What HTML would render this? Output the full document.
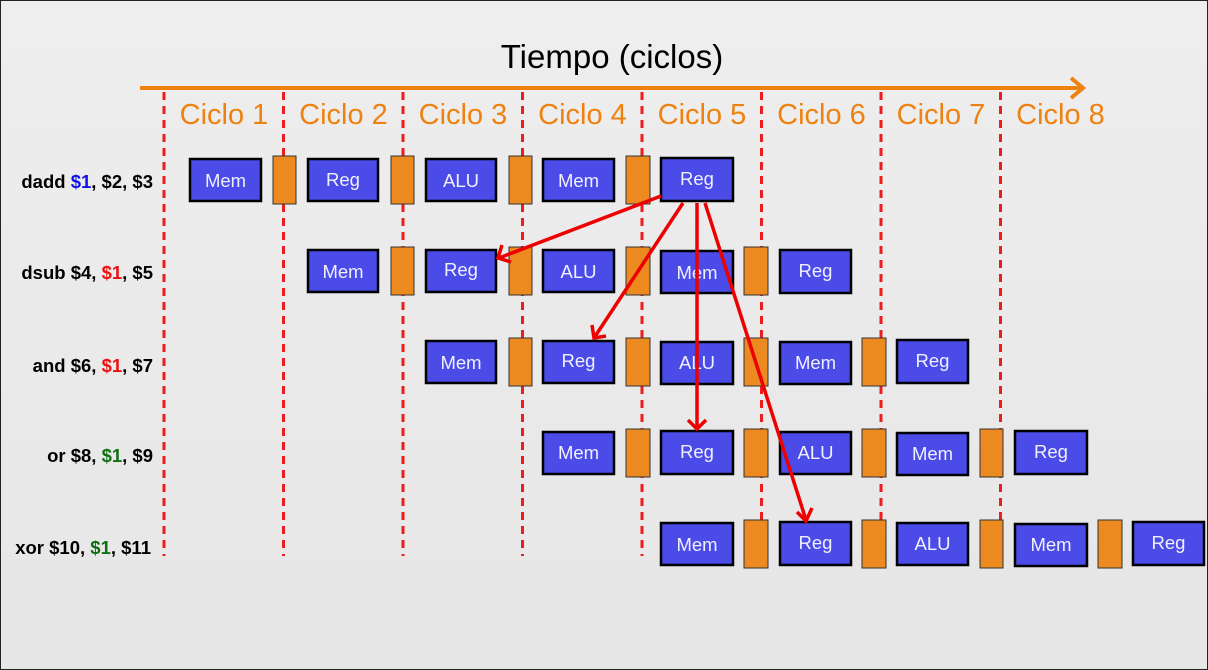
<!DOCTYPE html>
<html><head><meta charset="utf-8"><style>
html,body{margin:0;padding:0;}
body{width:1208px;height:670px;overflow:hidden;background:#ececec;}
svg{display:block;font-family:"Liberation Sans",Arial,sans-serif;}
.b{fill:#4b4be8;stroke:#000;stroke-width:2.5;}
.l{fill:#ec8a20;stroke:#333;stroke-width:1;}
.t{fill:#f0f0ff;font-size:18.5px;text-anchor:middle;}
.c{fill:#ee8211;font-size:29px;text-anchor:middle;}
.lab{font-size:18.5px;font-weight:bold;text-anchor:end;fill:#000;}
.d{stroke:#ee1c1c;stroke-width:3;stroke-dasharray:8 6;}
.a{stroke:#ee0000;stroke-width:3.5;fill:none;}
</style></head><body>
<svg width="1208" height="670" viewBox="0 0 1208 670">
<defs>
<linearGradient id="bg" x1="0" y1="0" x2="0" y2="1">
<stop offset="0" stop-color="#efeeee"/><stop offset="1" stop-color="#e6e6e6"/>
</linearGradient>
</defs>
<rect x="0.5" y="0.5" width="1207" height="669" fill="url(#bg)" stroke="#222" stroke-width="1"/>
<text x="612" y="68" font-size="33" text-anchor="middle" fill="#000">Tiempo (ciclos)</text>
<line x1="140" y1="88" x2="1082" y2="88" stroke="#ee8211" stroke-width="4"/>
<polyline points="1071,78 1083,88 1071,98" stroke="#ee8211" stroke-width="4" fill="none"/>
<g>
<line class="d" x1="164" y1="92" x2="164" y2="556"/>
<line class="d" x1="283.5" y1="92" x2="283.5" y2="556"/>
<line class="d" x1="403" y1="92" x2="403" y2="556"/>
<line class="d" x1="522.5" y1="92" x2="522.5" y2="556"/>
<line class="d" x1="642" y1="92" x2="642" y2="556"/>
<line class="d" x1="761.5" y1="92" x2="761.5" y2="556"/>
<line class="d" x1="881" y1="92" x2="881" y2="556"/>
<line class="d" x1="1000.5" y1="92" x2="1000.5" y2="556"/>
</g>
<text class="c" x="224" y="124">Ciclo 1</text>
<text class="c" x="343.5" y="124">Ciclo 2</text>
<text class="c" x="463" y="124">Ciclo 3</text>
<text class="c" x="582.5" y="124">Ciclo 4</text>
<text class="c" x="702" y="124">Ciclo 5</text>
<text class="c" x="821.5" y="124">Ciclo 6</text>
<text class="c" x="941" y="124">Ciclo 7</text>
<text class="c" x="1060.5" y="124">Ciclo 8</text>

<text class="lab" x="153" y="188">dadd <tspan fill="#1010ee">$1</tspan>, $2, $3</text>
<text class="lab" x="153" y="279">dsub $4, <tspan fill="#ee1010">$1</tspan>, $5</text>
<text class="lab" x="153" y="372">and $6, <tspan fill="#ee1010">$1</tspan>, $7</text>
<text class="lab" x="153" y="462">or $8, <tspan fill="#107010">$1</tspan>, $9</text>
<text class="lab" x="151" y="554">xor $10, <tspan fill="#107010">$1</tspan>, $11</text>

<g>
<rect class="b" x="190" y="159" width="71" height="42"/><text class="t" x="225.5" y="187">Mem</text>
<rect class="l" x="273" y="156" width="23" height="48"/>
<rect class="b" x="308" y="159" width="70" height="42"/><text class="t" x="343" y="186">Reg</text>
<rect class="l" x="391" y="156" width="23" height="48"/>
<rect class="b" x="426" y="159" width="70" height="42"/><text class="t" x="461" y="187">ALU</text>
<rect class="l" x="509" y="156" width="23" height="48"/>
<rect class="b" x="543" y="159" width="71" height="42"/><text class="t" x="578.5" y="187">Mem</text>
<rect class="l" x="626" y="156" width="24" height="48"/>
<rect class="b" x="661" y="158" width="72" height="43"/><text class="t" x="697" y="185">Reg</text>
</g>
<g>
<rect class="b" x="308" y="250" width="70" height="42"/><text class="t" x="343" y="278">Mem</text>
<rect class="l" x="391" y="247" width="23" height="48"/>
<rect class="b" x="426" y="250" width="70" height="42"/><text class="t" x="461" y="276">Reg</text>
<rect class="l" x="509" y="247" width="23" height="48"/>
<rect class="b" x="543" y="250" width="71" height="42"/><text class="t" x="578.5" y="278">ALU</text>
<rect class="l" x="626" y="247" width="24" height="48"/>
<rect class="b" x="661" y="251" width="72" height="42"/><text class="t" x="697" y="279">Mem</text>
<rect class="l" x="744" y="247" width="24" height="48"/>
<rect class="b" x="780" y="250" width="71" height="43"/><text class="t" x="815.5" y="277">Reg</text>
</g>
<g>
<rect class="b" x="426" y="341" width="70" height="42"/><text class="t" x="461" y="369">Mem</text>
<rect class="l" x="509" y="338" width="23" height="48"/>
<rect class="b" x="543" y="341" width="71" height="42"/><text class="t" x="578.5" y="367">Reg</text>
<rect class="l" x="626" y="338" width="24" height="48"/>
<rect class="b" x="661" y="342" width="72" height="42"/><text class="t" x="697" y="369">ALU</text>
<rect class="l" x="744" y="338" width="24" height="48"/>
<rect class="b" x="780" y="342" width="71" height="42"/><text class="t" x="815.5" y="369">Mem</text>
<rect class="l" x="862" y="338" width="24" height="48"/>
<rect class="b" x="897" y="340" width="71" height="43"/><text class="t" x="932.5" y="367">Reg</text>
</g>
<g>
<rect class="b" x="543" y="432" width="71" height="42"/><text class="t" x="578.5" y="459">Mem</text>
<rect class="l" x="626" y="429" width="24" height="48"/>
<rect class="b" x="661" y="431" width="72" height="43"/><text class="t" x="697" y="458">Reg</text>
<rect class="l" x="744" y="429" width="24" height="48"/>
<rect class="b" x="780" y="432" width="71" height="42"/><text class="t" x="815.5" y="459">ALU</text>
<rect class="l" x="862" y="429" width="24" height="48"/>
<rect class="b" x="897" y="433" width="71" height="42"/><text class="t" x="932.5" y="460">Mem</text>
<rect class="l" x="980" y="429" width="23" height="48"/>
<rect class="b" x="1015" y="431" width="72" height="43"/><text class="t" x="1051" y="458">Reg</text>
</g>
<g>
<rect class="b" x="661" y="523" width="72" height="42"/><text class="t" x="697" y="551">Mem</text>
<rect class="l" x="744" y="520" width="24" height="48"/>
<rect class="b" x="780" y="522" width="71" height="43"/><text class="t" x="815.5" y="549">Reg</text>
<rect class="l" x="862" y="520" width="24" height="48"/>
<rect class="b" x="897" y="523" width="71" height="42"/><text class="t" x="932.5" y="550">ALU</text>
<rect class="l" x="980" y="520" width="23" height="48"/>
<rect class="b" x="1015" y="524" width="72" height="42"/><text class="t" x="1051" y="551">Mem</text>
<rect class="l" x="1098" y="520" width="24" height="48"/>
<rect class="b" x="1133" y="522" width="71" height="43"/><text class="t" x="1168.5" y="549">Reg</text>
</g>

<g>
<line class="a" x1="661" y1="196" x2="499" y2="258"/>
<polyline class="a" points="502,245 498,258 511,262"/>
<line class="a" x1="683" y1="203" x2="594" y2="338"/>
<polyline class="a" points="592,325 594,338 606,336"/>
<line class="a" x1="697" y1="203" x2="697" y2="428"/>
<polyline class="a" points="688,420 697,429 706,420"/>
<line class="a" x1="705" y1="203" x2="806" y2="520"/>
<polyline class="a" points="797,512 806,521 812,508"/>
</g>
</svg>
</body></html>
